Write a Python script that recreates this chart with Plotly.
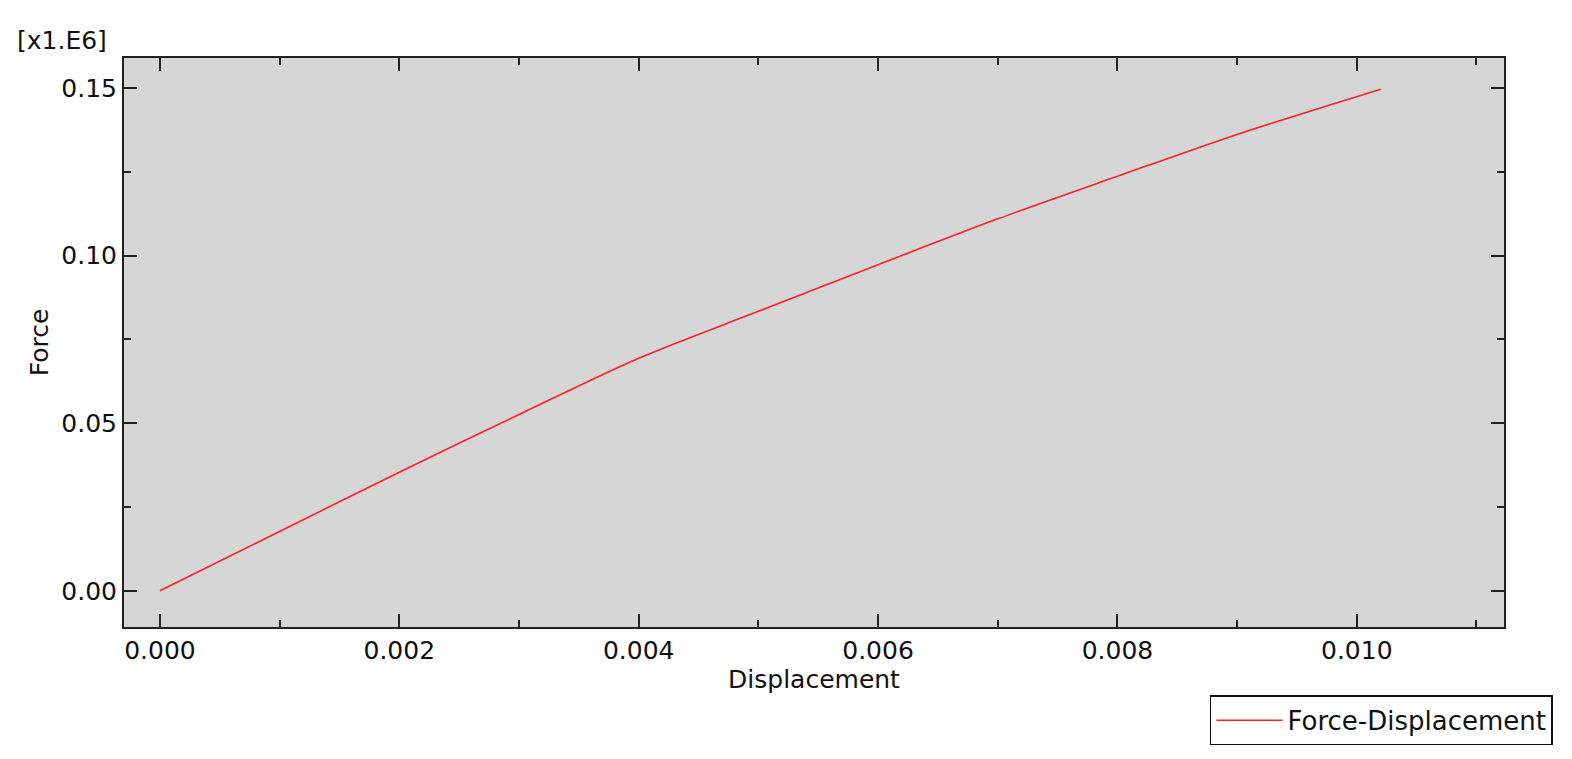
import plotly.graph_objects as go

# Force-displacement curve (force shown in units of 1e6)
displacement = [0.0, 0.001, 0.002, 0.003, 0.004, 0.005, 0.006, 0.007, 0.008, 0.009, 0.0102]
force = [0.0, 0.0177, 0.0354, 0.0526, 0.0694, 0.0834, 0.0973, 0.1110, 0.1237, 0.1362, 0.1497]

x_ticks = [0.000, 0.002, 0.004, 0.006, 0.008, 0.010]
y_ticks = [0.00, 0.05, 0.10, 0.15]

FONT = "DejaVu Sans"
FS = 25
AX_COLOR = "#202020"
TXT = "#111111"

fig = go.Figure()
fig.add_trace(go.Scatter(
    x=displacement, y=force,
    mode="lines",
    line=dict(color="#ff2020", width=1.6, shape="spline", smoothing=0.8),
    name="Force-Displacement",
))

axis_common = dict(
    showline=True, linecolor=AX_COLOR, linewidth=2,
    mirror="ticks", ticks="inside", ticklen=13, tickwidth=1.5,
    tickcolor=AX_COLOR, showgrid=False, zeroline=False,
    tickfont=dict(family=FONT, size=FS, color=TXT),
)

fig.update_xaxes(
    **axis_common,
    range=[-0.0003, 0.01123],
    tickvals=x_ticks,
    ticktext=[f"{v:.3f}" for v in x_ticks],
    minor=dict(dtick=0.001, ticks="inside", ticklen=7, tickwidth=1.5, tickcolor=AX_COLOR),
    title=dict(text="Displacement", font=dict(family=FONT, size=FS, color=TXT), standoff=2),
)
fig.update_yaxes(
    **axis_common,
    range=[-0.0108, 0.159],
    tickvals=y_ticks,
    ticktext=[f"{v:.2f}" for v in y_ticks],
    minor=dict(dtick=0.025, ticks="inside", ticklen=7, tickwidth=1.5, tickcolor=AX_COLOR),
    title=dict(text="Force", font=dict(family=FONT, size=FS, color=TXT), standoff=6),
)

fig.add_annotation(
    text="[x1.E6]", xref="paper", yref="paper",
    x=-0.079, y=1.03, xanchor="left", yanchor="middle",
    showarrow=False, font=dict(family=FONT, size=FS, color=TXT),
)

# page body has an 8px margin, so the figure is shrunk by that much
fig.update_layout(
    width=1564, height=751,
    paper_bgcolor="white", plot_bgcolor="#d6d6d6",
    margin=dict(l=116, r=68, t=50, b=132),
    showlegend=True,
    legend=dict(
        x=1.0355, y=-0.12, xanchor="right", yanchor="top",
        bordercolor=TXT, borderwidth=1.5, bgcolor="white",
        font=dict(family=FONT, size=26, color=TXT),
        itemwidth=66,
    ),
)

fig.write_html("out.html")
